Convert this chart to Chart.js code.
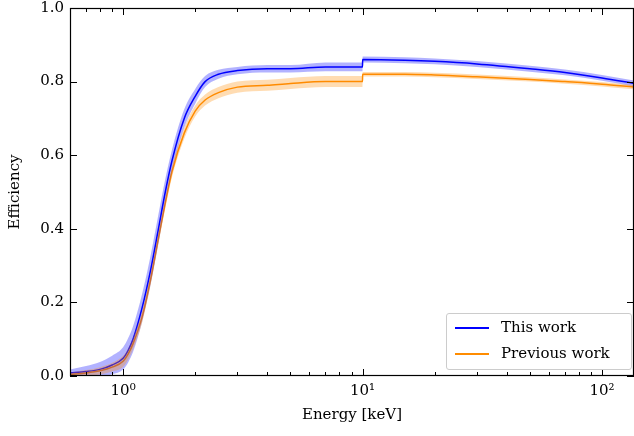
<!DOCTYPE html>
<html>
<head>
<meta charset="UTF-8">
<script src="https://cdn.jsdelivr.net/npm/chart.js"></script>
<style>
  body { margin: 0; background: #fff; overflow: hidden; }
  #wrap { position: relative; width: 634px; height: 436px; overflow: hidden; }
  #c { position: absolute; left: 0; top: -7px; }
  #legend {
    position: absolute; left: 446px; top: 313px; width: 184px; height: 55px;
    border: 1px solid #ccc; border-radius: 3px; background: #fff;
    font-family: "DejaVu Serif", serif; font-size: 15px; color: #000;
  }
  #legend div { position: relative; height: 25px; line-height: 25px; padding-left: 54px; margin-top: 1px; }
  #legend span { position: absolute; left: 8px; top: 12px; width: 34px; height: 2px; }
</style>
</head>
<body>
<div id="wrap">
  <canvas id="c" width="634" height="443"></canvas>
  <div id="legend">
    <div><span style="background:#0000ff"></span>This work</div>
    <div><span style="background:#ff8c00"></span>Previous work</div>
  </div>
</div>
<script>
const energy = [0.6, 0.7, 0.8, 0.9, 1.0, 1.05, 1.1, 1.2, 1.3, 1.4, 1.5, 1.6, 1.8, 2.0, 2.2, 2.5, 3, 4, 5, 7, 9.99, 10.01, 15, 20, 30, 50, 70, 100, 136];
const thisWork = [0.008, 0.012, 0.018, 0.03, 0.048, 0.07, 0.1, 0.185, 0.285, 0.395, 0.5, 0.585, 0.7, 0.76, 0.8, 0.82, 0.83, 0.835, 0.835, 0.84, 0.84, 0.86, 0.858, 0.855, 0.848, 0.835, 0.825, 0.81, 0.795];
const thisErr = [0.01, 0.015, 0.02, 0.025, 0.03, 0.033, 0.035, 0.038, 0.04, 0.04, 0.035, 0.03, 0.025, 0.02, 0.015, 0.012, 0.01, 0.01, 0.01, 0.012, 0.012, 0.008, 0.008, 0.008, 0.008, 0.008, 0.008, 0.008, 0.008];
const prevWork = [0.004, 0.008, 0.014, 0.024, 0.04, 0.06, 0.088, 0.16, 0.26, 0.37, 0.47, 0.555, 0.66, 0.72, 0.75, 0.77, 0.785, 0.79, 0.795, 0.8, 0.8, 0.82, 0.82, 0.818, 0.813, 0.806, 0.8, 0.793, 0.785];
const prevErr = [0.005, 0.008, 0.01, 0.012, 0.015, 0.015, 0.015, 0.015, 0.015, 0.015, 0.015, 0.015, 0.015, 0.015, 0.015, 0.015, 0.015, 0.015, 0.015, 0.015, 0.015, 0.006, 0.006, 0.006, 0.006, 0.006, 0.006, 0.006, 0.006];
const yTicks = [0, 0.2, 0.4, 0.6, 0.8, 1.0];
const xMajor = [1, 10, 100];
const supers = { 0: '⁰', 1: '¹', 2: '²' };

const pts = (arr, err, s) => energy.map((e, i) => ({ x: e, y: err ? arr[i] + s * err[i] : arr[i] }));
const line = (d, c) => ({ data: d, borderColor: c, borderWidth: 1.5, pointRadius: 0, fill: false, cubicInterpolationMode: 'monotone' });
const band = (d, c, fill) => ({ data: d, borderWidth: 0, pointRadius: 0, backgroundColor: c, fill: fill, cubicInterpolationMode: 'monotone' });

const ticksPlugin = {
  id: 'inTicks',
  afterDraw(chart) {
    const { ctx, chartArea: a, scales: { x, y } } = chart;
    ctx.save();
    ctx.strokeStyle = '#000';
    ctx.lineWidth = 1;
    ctx.beginPath();
    for (let d = -1; d <= 2; d++) {
      for (let m = 1; m <= 9; m++) {
        const v = m * Math.pow(10, d);
        if (v < x.min || v > x.max) continue;
        const px = Math.round(x.getPixelForValue(v)) + 0.5;
        const len = m === 1 ? 7 : 4;
        ctx.moveTo(px, a.bottom); ctx.lineTo(px, a.bottom - len);
        ctx.moveTo(px, a.top); ctx.lineTo(px, a.top + len);
      }
    }
    yTicks.forEach(v => {
      const py = Math.round(y.getPixelForValue(v)) + 0.5;
      ctx.moveTo(a.left, py); ctx.lineTo(a.left + 7, py);
      ctx.moveTo(a.right, py); ctx.lineTo(a.right - 7, py);
    });
    ctx.stroke();
    ctx.lineWidth = 1.2;
    ctx.strokeRect(a.left + 0.5, a.top + 0.5, a.right - a.left - 1, a.bottom - a.top - 1);
    ctx.restore();
  }
};

new Chart(document.getElementById('c'), {
  type: 'line',
  data: {
    datasets: [
      band(pts(prevWork, prevErr, 1), 'rgba(255,140,0,0.3)', false),
      band(pts(prevWork, prevErr, -1), 'rgba(255,140,0,0.3)', '-1'),
      band(pts(thisWork, thisErr, 1), 'rgba(0,0,255,0.3)', false),
      band(pts(thisWork, thisErr, -1), 'rgba(0,0,255,0.3)', '-1'),
      line(pts(prevWork), '#ff8c00'),
      line(pts(thisWork), '#0000ff')
    ]
  },
  plugins: [ticksPlugin],
  options: {
    responsive: false,
    animation: false,
    layout: { padding: { top: 1, right: 0, bottom: 8 } },
    plugins: { legend: { display: false }, tooltip: { enabled: false } },
    scales: {
      x: {
        type: 'logarithmic', min: 0.607, max: 136,
        grid: { display: false, drawTicks: false }, border: { display: false },
        afterBuildTicks: s => { s.ticks = xMajor.map(v => ({ value: v })); },
        afterFit: s => { s.height = 52; },
        ticks: {
          color: '#000', padding: 6, maxRotation: 0, autoSkip: false,
          font: { family: 'DejaVu Serif', size: 15 },
          callback: v => '10' + supers[Math.round(Math.log10(v))]
        },
        title: { display: true, text: 'Energy [keV]', color: '#000', padding: { top: 2 }, font: { family: 'DejaVu Serif', size: 15 } }
      },
      y: {
        min: 0, max: 1,
        grid: { display: false, drawTicks: false }, border: { display: false },
        afterBuildTicks: s => { s.ticks = yTicks.map(v => ({ value: v })); },
        afterFit: s => { s.width = 70; },
        ticks: {
          color: '#000', padding: 6,
          font: { family: 'DejaVu Serif', size: 15 },
          callback: v => v.toFixed(1)
        },
        title: { display: true, text: 'Efficiency', color: '#000', padding: { top: 6, bottom: 4 }, font: { family: 'DejaVu Serif', size: 15 } }
      }
    }
  }
});
</script>
</body>
</html>
